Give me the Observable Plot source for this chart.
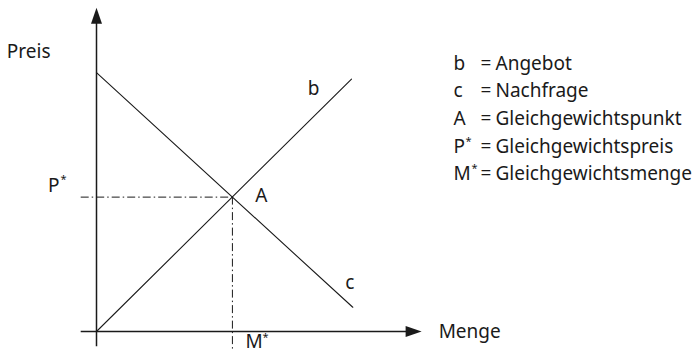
<!DOCTYPE html>
<html><head><meta charset="utf-8">
<script src="https://cdn.jsdelivr.net/npm/d3@7"></script>
<script src="https://cdn.jsdelivr.net/npm/@observablehq/plot@0.6"></script>
<style>
body{margin:0;background:#fff;}
#chart svg{display:block;}
</style>
</head><body><div id="chart"></div>
<script>
// Angebot (b) und Nachfrage (c) als Geraden, Menge (m) vs. Preis (p)
const supply = [{m: 0, p: 0}, {m: 10, p: 9.9}];
const demand = [{m: 0, p: 10.15}, {m: 10.05, p: 0.95}];
// Gleichgewicht A
const equilibrium = [{m: 5.33, p: 5.27}];
// Achsen-Ausdehnung
const axisStart = -0.6;
const xAxisEnd = 12.75;
const yAxisEnd = 12.7;
// Texte
const axisLabelX = "Menge";
const axisLabelY = "Preis";
const legendSymbols = ["b", "c", "A", "P", "M"];
const legendStarsP = ["", "", "", "*", ""];
const legendStarsM = ["", "", "", "", "*"];
const legendTexts = ["Angebot", "Nachfrage", "Gleichgewichtspunkt", "Gleichgewichtspreis", "Gleichgewichtsmenge"];

const ink = "#1a1a1a";
const font = "'Noto Sans', sans-serif";
const fs = 19;
const starFs = 11;
const rowH = 27.75;
const firstBaseline = 69;
const eq = equilibrium[0];
const dashDot = "8,3,1.5,3";

// schmale, gefüllte Pfeilspitze (Spitze im Ursprung, zeigt nach oben)
const arrowHead = {
  draw(ctx) {
    ctx.moveTo(0, 0);
    ctx.lineTo(-5.5, 16);
    ctx.lineTo(5.5, 16);
    ctx.closePath();
  }
};

// Plot setzt bei lineAnchor "top" die erste Zeile auf 0.71 * lineHeight
const legendCol = (lines, dx, size, baseline) => Plot.text([lines.join("\n")], {
  frameAnchor: "top-left", text: d => d, textAnchor: "start", lineAnchor: "top",
  lineHeight: rowH / size, dx, dy: baseline - 0.71 * rowH, fontSize: size, fill: ink
});

const chart = Plot.plot({
  width: 694,
  height: 353,
  margin: 0,
  style: {fontFamily: font, color: ink, background: "#fff"},
  x: {domain: [0, 10], range: [96, 351], axis: null},
  y: {domain: [0, 10], range: [331, 76], axis: null},
  marks: [
    // Hilfslinien (Strich-Punkt)
    Plot.ruleY([eq.p], {x1: axisStart, x2: eq.m, stroke: ink, strokeWidth: 1, strokeDasharray: dashDot}),
    Plot.ruleX([eq.m], {y1: eq.p, y2: -0.75, stroke: ink, strokeWidth: 1, strokeDasharray: dashDot}),
    // Kurven
    Plot.line(supply, {x: "m", y: "p", stroke: ink, strokeWidth: 1.1}),
    Plot.line(demand, {x: "m", y: "p", stroke: ink, strokeWidth: 1.1}),
    // Achsen
    Plot.ruleX([0], {y1: axisStart, y2: yAxisEnd - 0.4, stroke: ink, strokeWidth: 1.5}),
    Plot.ruleY([0], {x1: axisStart, x2: xAxisEnd - 0.4, stroke: ink, strokeWidth: 1.5}),
    Plot.dot([{m: 0, p: yAxisEnd}], {x: "m", y: "p", symbol: arrowHead, r: 5, fill: ink, stroke: null}),
    Plot.dot([{m: xAxisEnd, p: 0}], {x: "m", y: "p", symbol: arrowHead, r: 5, rotate: 90, fill: ink, stroke: null}),
    // Achsenbeschriftungen
    Plot.text([axisLabelY], {x: () => 0, y: () => yAxisEnd, text: d => d, textAnchor: "end", dx: -46, dy: 44, fontSize: fs, fill: ink}),
    Plot.text([axisLabelX], {x: () => xAxisEnd, y: () => 0, text: d => d, textAnchor: "start", dx: 17, dy: 0, fontSize: fs, fill: ink}),
    // P* und M*
    Plot.text(equilibrium, {x: () => 0, y: "p", text: () => "P", textAnchor: "end", dx: -37, dy: -11, fontSize: fs, fill: ink}),
    Plot.text(equilibrium, {x: () => 0, y: "p", text: () => "*", textAnchor: "start", dx: -36, dy: -18, fontSize: starFs, fill: ink}),
    Plot.text(equilibrium, {x: "m", y: () => 0, text: () => "M", textAnchor: "start", dx: 13, dy: 10, fontSize: fs, fill: ink}),
    Plot.text(equilibrium, {x: "m", y: () => 0, text: () => "*", textAnchor: "start", dx: 30, dy: 5.5, fontSize: starFs, fill: ink}),
    // A, b, c
    Plot.text(equilibrium, {x: "m", y: "p", text: () => "A", dx: 29, dy: -1, fontSize: fs, fill: ink}),
    Plot.text(supply.slice(-1), {x: "m", y: "p", text: () => "b", dx: -38, dy: 10, fontSize: fs, fill: ink}),
    Plot.text(demand.slice(-1), {x: "m", y: "p", text: () => "c", dx: -3, dy: -24, fontSize: fs, fill: ink}),
    // Legende
    legendCol(legendSymbols, 453, fs, firstBaseline),
    legendCol(legendStarsP, 465, starFs, firstBaseline - 8),
    legendCol(legendStarsM, 471, starFs, firstBaseline - 8),
    legendCol(legendSymbols.map(() => "="), 480, fs, firstBaseline),
    legendCol(legendTexts, 495, fs, firstBaseline)
  ]
});
document.getElementById("chart").appendChild(chart);
</script>
</body></html>
